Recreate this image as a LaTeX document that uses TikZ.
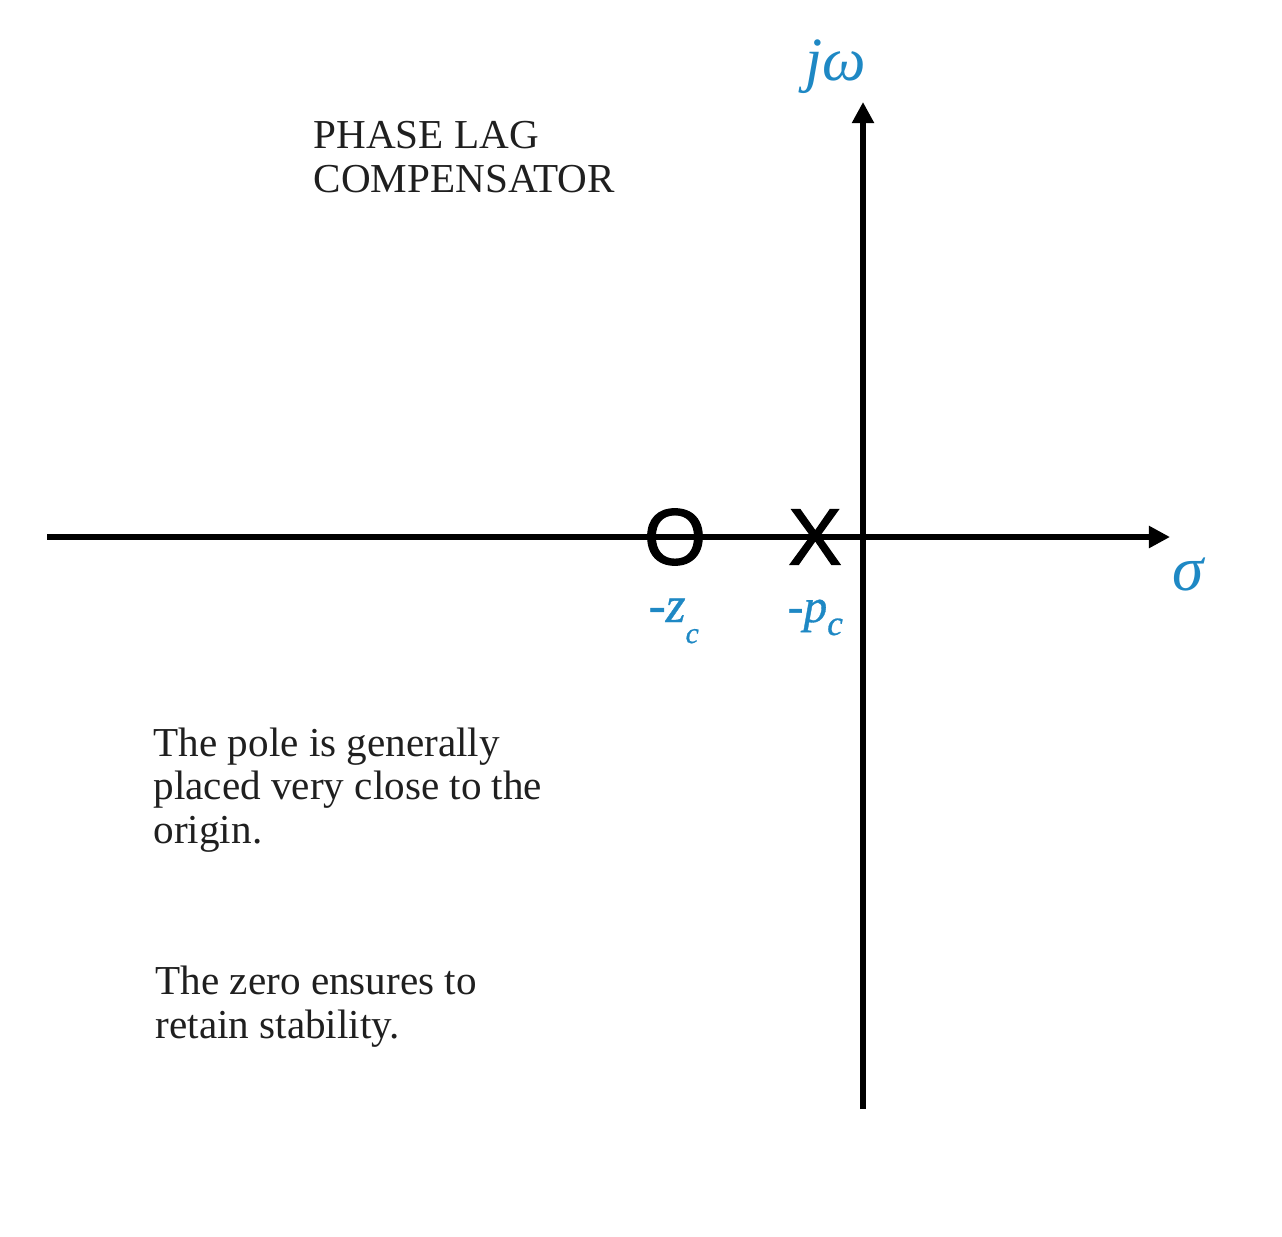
\documentclass[tikz,border=0pt]{standalone}
\usepackage{fontspec}
\setmainfont{Liberation Serif}
\newfontfamily\markfont[FakeBold=1.6]{Liberation Sans}
\newfontfamily\labelfont[FakeBold=0.7]{Liberation Serif}
\usetikzlibrary{arrows.meta}
\definecolor{axisblue}{RGB}{30,136,196}

\begin{document}
\begin{tikzpicture}[
  x=0.01cm, y=-0.01cm,
  axis/.style={line width=1.45pt, -{Triangle[length=6pt,width=6pt]}},
  marker/.style={font=\markfont\fontsize{22.7}{24}\selectfont, inner sep=0pt},
  axislabel/.style={text=axisblue, inner sep=0pt, anchor=base west,
    font=\labelfont\fontsize{13.5}{14}\selectfont\itshape},
  note/.style={font=\fontsize{11.7}{12.3}\selectfont, align=left,
    inner sep=0pt, anchor=base west, text=black!88}
]
  \useasboundingbox (0,0) rectangle (1282,1236);

  \coordinate (W) at (47,537);
  \coordinate (E) at (1170,537);
  \coordinate (S) at (863,1109);
  \coordinate (N) at (863,102);

  % real and imaginary axes
  \draw[axis] (W) -- (E);
  \draw[axis] (S) -- (N);

  % zero and pole of the compensator
  \node[marker] (zero) at (675,537) {O};
  \node[marker] (pole) at (815,537) {X};

  % axis names
  \node[axislabel, font=\fontsize{17.5}{18}\selectfont\itshape] (jw) at (805,80) {jω};
  \node[axislabel, font=\fontsize{18}{19}\selectfont\itshape] (sigma) at (1172,590) {σ};

  % labels under the markers
  \node[axislabel, font=\labelfont\fontsize{14.5}{15}\selectfont\itshape] (zlabel) at (648,622)
    {-z\raisebox{-6pt}{\fontsize{8.5}{9}\selectfont c}};
  \node[axislabel] (plabel) at (787,622)
    {-p\raisebox{-3.7pt}{\fontsize{10}{10}\selectfont c}};

  % Notes (anchored at the baseline of the last line)
  \node[note] (title) at (313,192) {PHASE LAG\\COMPENSATOR};
  \node[note] (polenote) at (153,843)
    {The pole is generally\\placed very close to the\\origin.};
  \node[note] (zeronote) at (155,1038)
    {The zero ensures to\\retain stability.};
\end{tikzpicture}
\end{document}
